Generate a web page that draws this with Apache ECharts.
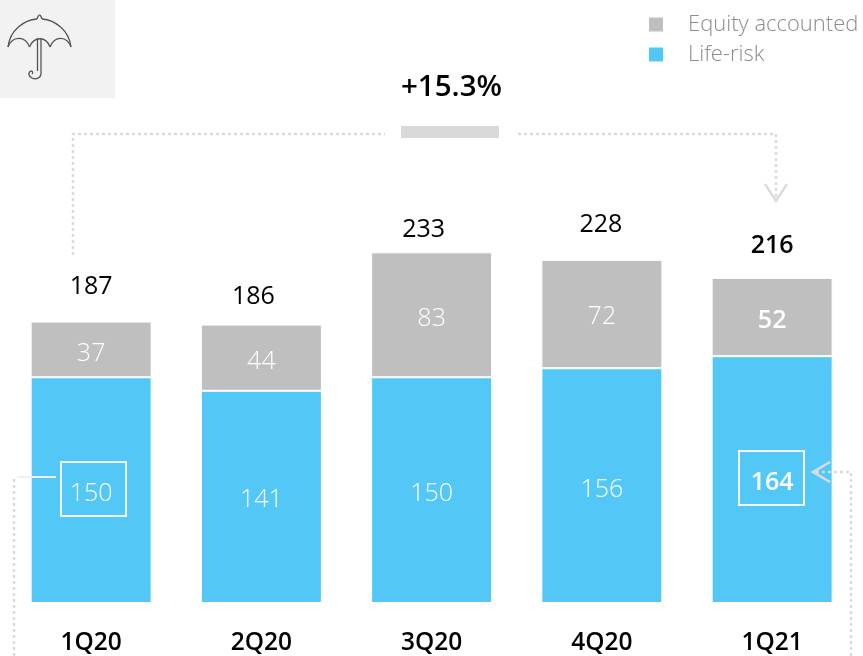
<!DOCTYPE html>
<html><head><meta charset="utf-8">
<style>html,body{margin:0;padding:0;background:#fff}#c{width:863px;height:656px}</style>
<script src="https://cdn.jsdelivr.net/npm/echarts@6/dist/echarts.min.js"></script>
</head><body><div id="c"></div>
<script>
const categories = ['1Q20','2Q20','3Q20','4Q20','1Q21'];
const lifeRisk = [150,141,150,156,164];
const equityAccounted = [37,44,83,72,52];
const totals = [187,186,233,228,216];
const changeText = '+15.3%';

const FONT = '"Open Sans","Noto Sans",sans-serif';
const GREY = '#bfbfbf', BLUE = '#53c8f6', ANNO = '#dcdcdc';
const boldLast = i => i === categories.length - 1;
const totalOffsets = [[0,-17],[-8,-9],[-8,-5],[-1,-17],[0,-15]];
const lifeOffsets = [[0,4],[0,3],[0,4],[0,4],[0,3]];
const equityOffsets = [[0,4],[0,4],[0,4],[0,3],[0,4]];

const dotted = (points) => ({type:'polyline',shape:{points},silent:true,z:5,
  style:{stroke:ANNO,lineWidth:2.5,lineDash:[3,3],fill:null}});
const solid = (points,stroke,lineWidth) => ({type:'polyline',shape:{points},silent:true,z:6,
  style:{stroke,lineWidth,fill:null}});
const box = (x,y,w,h) => ({type:'rect',shape:{x,y,width:w,height:h},silent:true,z:6,
  style:{stroke:'#f4f8fa',lineWidth:2,fill:null}});
const curve = (x1,y1,cpx1,cpy1,cpx2,cpy2,x2,y2) => ({type:'bezierCurve',silent:true,z:2,
  shape:{x1,y1,cpx1,cpy1,cpx2,cpy2,x2,y2},style:{stroke:'#555',lineWidth:1.3,fill:null}});

const chart = echarts.init(document.getElementById('c'),null,{renderer:'canvas'});
chart.setOption({
  animation:false,
  backgroundColor:'#fff',
  textStyle:{fontFamily:FONT},
  grid:{left:6,width:851.25,top:1,height:603},
  legend:{
    left:642,top:6,orient:'vertical',itemWidth:16,itemHeight:16,itemGap:3,icon:'rect',
    data:['Equity accounted','Life-risk'],selectedMode:false,
    textStyle:{fontFamily:FONT,fontSize:22,fontWeight:300,color:'#8c8c8c',padding:[0,0,0,19],lineHeight:27}
  },
  xAxis:{type:'category',data:categories,axisLine:{show:false},axisTick:{show:false},
    axisLabel:{margin:28,color:'#000',fontFamily:FONT,fontSize:24.5,fontWeight:600}},
  yAxis:{type:'value',min:0,max:400,show:false},
  series:[
    {name:'Life-risk',type:'bar',stack:'a',barWidth:121,
     itemStyle:{color:BLUE,borderColor:'#fff',borderWidth:1},
     data:lifeRisk.map((v,i)=>({value:v,label:{offset:lifeOffsets[i],fontWeight:boldLast(i)?600:300}})),
     label:{show:true,position:'inside',color:'#fff',fontFamily:FONT,fontSize:25}},
    {name:'Equity accounted',type:'bar',stack:'a',barWidth:121,
     itemStyle:{color:GREY,borderColor:'#fff',borderWidth:1},
     data:equityAccounted.map((v,i)=>({value:v,label:{offset:equityOffsets[i],fontWeight:boldLast(i)?600:300}})),
     label:{show:true,position:'inside',color:'#fff',fontFamily:FONT,fontSize:25}},
    {name:'Total',type:'line',symbol:'circle',symbolSize:0,
     lineStyle:{opacity:0},itemStyle:{color:'transparent'},
     data:totals.map((v,i)=>({value:v,label:{offset:totalOffsets[i],fontWeight:boldLast(i)?600:400}})),
     label:{show:true,position:'top',color:'#000',fontFamily:FONT,fontSize:25}}
  ],
  graphic:[
    {type:'rect',shape:{x:0,y:0,width:115,height:98},silent:true,z:1,style:{fill:'#f2f2f2'}},
    curve(8,47,10,30,24,20,37,19),
    curve(37,19,38,17,38,15,39.5,15),
    curve(39.5,15,41,15,41,17,42,19),
    curve(42,19,55,20,69,30,71,47),
    curve(71,47,67,36,55,35,50,47),
    curve(50,47,46,36,34,36,29.5,47),
    curve(29.5,47,25,35,12,36,8,47),
    curve(37.5,38,37.5,50,37.5,60,37.5,71),
    curve(41,38,41,50,41,60,41,71),
    curve(41,71,42,78,36,80,32,78),
    curve(32,78,28,76,28,72,31,71),
    curve(31,71,33,71,33,73,32,74),
    {type:'text',silent:true,z:7,style:{text:changeText,x:451.5,y:88,align:'center',verticalAlign:'middle',
      font:'600 29.5px '+FONT,fill:'#000'}},
    {type:'rect',shape:{x:401,y:126,width:98,height:12},silent:true,z:5,style:{fill:'#d9d9d9'}},
    dotted([[73,255],[73,134],[385,134]]),
    dotted([[518,134],[776,134],[776,200]]),
    solid([[765,184],[776,201],[787,184]],ANNO,2.5),
    dotted([[14,656],[14,477]]),
    solid([[17,477],[56,477]],'#f0f0f0',2),
    dotted([[851,656],[851,472],[815,472]]),
    solid([[830,462],[813,472],[830,482]],ANNO,2.5),
    box(61,462,65,54),
    box(739,451,65,54)
  ]
});
</script></body></html>
